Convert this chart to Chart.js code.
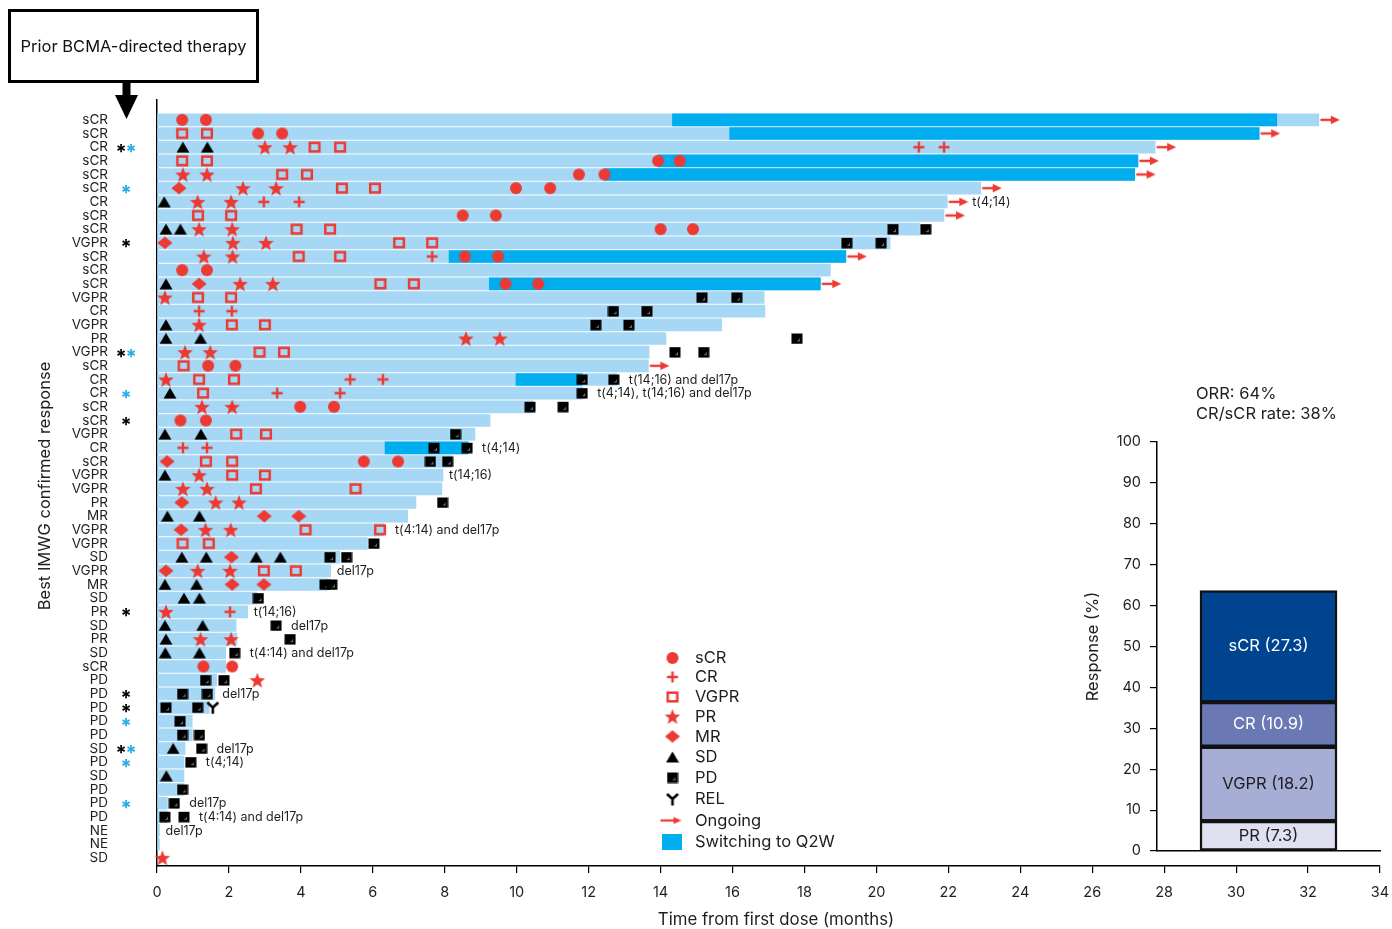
<!DOCTYPE html>
<html><head><meta charset="utf-8">
<script src="https://cdn.jsdelivr.net/npm/chart.js@4.4.1/dist/chart.umd.min.js"></script>
<style>
html,body{margin:0;padding:0;background:#fff;}
#wrap{position:relative;width:1392px;height:929px;font-family:Inter,sans-serif;overflow:hidden;}
#main{position:absolute;left:0;top:0;}
#inset{position:absolute;left:1060px;top:370px;}
#box{position:absolute;left:8px;top:9px;width:251px;height:74px;box-sizing:border-box;border:3px solid #000;
 display:flex;align-items:center;justify-content:center;font-size:16.5px;color:#111;}
</style></head>
<body><div id="wrap">
<canvas id="main" width="1392" height="929"></canvas>
<canvas id="inset" width="332" height="510"></canvas>
<div id="box">Prior BCMA-directed therapy</div>
</div>
<script>
// ---------------- DATA ----------------
const rowLabels = ["sCR","sCR","CR","sCR","sCR","sCR","CR","sCR","sCR","VGPR","sCR","sCR","sCR","VGPR","CR","VGPR","PR","VGPR","sCR","CR","CR","sCR","sCR","VGPR","CR","sCR","VGPR","VGPR","PR","MR","VGPR","VGPR","SD","VGPR","MR","SD","PR","SD","PR","SD","sCR","PD","PD","PD","PD","PD","SD","PD","SD","PD","PD","PD","NE","NE","SD"];
// time on treatment (months) per row
const barEnds = [32.3,30.64,27.75,27.27,27.18,22.9,21.97,21.88,21.2,20.38,19.15,18.72,18.44,16.88,16.9,15.7,14.15,13.68,13.66,12.78,11.84,10.45,9.26,8.84,8.65,8.2,7.95,7.92,7.2,6.97,6.3,5.85,5.09,4.83,4.72,2.77,2.52,2.2,2.22,1.91,1.91,1.66,1.61,1.45,0.98,0.98,0.78,0.75,0.75,0.75,0.29,0.28,0.07,0.07,null];
const ongoingRows = [0,1,2,3,4,5,6,7,10,12,18];
// switching to Q2W: [row, start, end]
const q2w = [[0,14.33,31.13],[1,15.92,30.64],[3,13.93,27.27],[4,12.44,27.18],[10,8.12,19.15],[12,9.24,18.44],[19,9.98,11.82],[24,6.34,8.65]];
// response assessments: [row, month]
const sCRpts = [[0,0.70],[0,1.36],[1,2.81],[1,3.48],[3,13.93],[3,14.53],[4,11.73],[4,12.44],[5,9.98],[5,10.93],[7,8.5],[7,9.42],[8,14.0],[8,14.9],[10,8.56],[10,9.48],[11,0.70],[11,1.39],[12,9.69],[12,10.6],[18,1.42],[18,2.18],[21,3.98],[21,4.92],[22,0.65],[22,1.36],[25,5.75],[25,6.7],[40,1.29],[40,2.09]];
const CRpts = [[2,21.18],[2,21.88],[6,2.97],[6,3.95],[10,7.65],[14,1.17],[14,2.08],[19,5.37],[19,6.28],[20,3.34],[20,5.09],[24,0.72],[24,1.39],[36,2.03]];
const VGPRpts = [[1,0.70],[1,1.39],[2,4.38],[2,5.09],[3,0.70],[3,1.39],[4,3.48],[4,4.17],[5,5.14],[5,6.06],[7,1.14],[7,2.06],[8,3.88],[8,4.81],[9,6.73],[9,7.65],[10,3.94],[10,5.09],[12,6.21],[12,7.14],[13,1.14],[13,2.06],[15,2.08],[15,3.0],[17,2.85],[17,3.53],[18,0.74],[19,1.17],[19,2.14],[20,1.28],[23,2.2],[23,3.03],[25,1.36],[25,2.09],[26,2.09],[26,3.0],[27,2.75],[27,5.52],[30,4.13],[30,6.2],[31,0.71],[31,1.44],[33,2.97],[33,3.86]];
const PRpts = [[2,3.0],[2,3.7],[4,0.72],[4,1.39],[5,2.39],[5,3.31],[6,1.13],[6,2.06],[8,1.17],[8,2.09],[9,2.11],[9,3.03],[10,1.3],[10,2.1],[12,2.31],[12,3.22],[13,0.22],[15,1.17],[16,8.59],[16,9.53],[17,0.78],[17,1.48],[19,0.25],[21,1.25],[21,2.09],[26,1.17],[27,0.72],[27,1.39],[28,1.63],[28,2.28],[30,1.35],[30,2.05],[33,1.13],[33,2.03],[36,0.25],[38,1.21],[38,2.06],[41,2.79],[54,0.15]];
const MRpts = [[5,0.61],[9,0.22],[12,1.17],[25,0.28],[28,0.69],[29,2.98],[29,3.94],[30,0.67],[32,2.07],[33,0.25],[34,2.09],[34,2.97]];
const SDpts = [[2,0.72],[2,1.4],[6,0.2],[8,0.25],[8,0.65],[12,0.25],[15,0.25],[16,0.25],[16,1.21],[20,0.36],[23,0.22],[23,1.22],[26,0.22],[29,0.29],[29,1.18],[32,0.69],[32,1.37],[32,2.76],[32,3.43],[34,0.22],[34,1.1],[35,0.75],[35,1.18],[37,0.22],[37,1.27],[38,0.25],[39,0.23],[39,1.18],[46,0.45],[48,0.26]];
const PDpts = [[8,20.46],[8,21.37],[9,19.18],[9,20.13],[13,15.15],[13,16.12],[14,12.69],[14,13.62],[15,12.2],[15,13.12],[16,17.79],[17,14.4],[17,15.2],[19,11.82],[19,12.7],[20,11.82],[21,10.37],[21,11.29],[23,8.3],[24,7.7],[24,8.62],[25,7.6],[25,8.08],[28,7.94],[31,6.03],[32,4.81],[32,5.27],[34,4.67],[34,4.86],[35,2.82],[37,3.31],[38,3.7],[39,2.16],[41,1.35],[41,1.86],[42,0.71],[42,1.4],[43,0.25],[43,1.13],[44,0.64],[45,0.71],[45,1.18],[46,1.24],[47,0.94],[49,0.71],[50,0.48],[51,0.22],[51,0.75]];
const RELpts = [[43,1.55]];
// prior therapy asterisks: k = black, b = blue
const asterisks = [[2,"kb"],[5,"b"],[9,"k"],[17,"kb"],[20,"b"],[22,"k"],[36,"k"],[42,"k"],[43,"k"],[44,"b"],[46,"kb"],[47,"b"],[50,"b"]];
// cytogenetic annotations
const annotations = [[6,"t(4;14)"],[19,"t(14;16) and del17p"],[20,"t(4;14), t(14;16) and del17p"],[24,"t(4;14)"],[26,"t(14;16)"],[30,"t(4:14) and del17p"],[33,"del17p"],[36,"t(14;16)"],[37,"del17p"],[39,"t(4:14) and del17p"],[42,"del17p"],[46,"del17p"],[47,"t(4;14)"],[50,"del17p"],[51,"t(4:14) and del17p"],[52,"del17p"]];
const xTicks = [0,2,4,6,8,10,12,14,16,18,20,22,24,26,28,30,32,34];
// inset stacked bar (%)
const respCats = ["PR","VGPR","CR","sCR"];
const respVals = [7.3,18.2,10.9,27.3];
const respTicks = [0,10,20,30,40,50,60,70,80,90,100];
const summaryLines = ["ORR: 64%","CR/sCR rate: 38%"];

// ---------------- STYLE ----------------
const FONT = 'Inter, "Noto Sans", sans-serif';
const RED = '#ec3a33', LIGHT = '#a6d7f4', DARK = '#00aeef', BLUE_AST = '#21aee6', TXT = '#1e1e1e';
function mk(w,h,draw){const c=document.createElement('canvas');c.width=w;c.height=h;const g=c.getContext('2d');draw(g,w,h);return c;}
const imgCircle = mk(14,14,g=>{g.fillStyle=RED;g.beginPath();g.ellipse(7,7,6,5.9,0,0,Math.PI*2);g.fill();});
const imgCross = mk(14,14,g=>{g.strokeStyle=RED;g.lineWidth=2.4;g.beginPath();g.moveTo(1.5,7);g.lineTo(12.5,7);g.moveTo(7,1.5);g.lineTo(7,12.5);g.stroke();});
const imgSquare = mk(14,14,g=>{g.strokeStyle=RED;g.lineWidth=2.5;g.strokeRect(2.2,2.7,9.6,8.6);});
const imgStar = mk(18,18,g=>{g.fillStyle=RED;g.beginPath();for(let i=0;i<10;i++){const r=i%2?3.5:8.2;const a=-Math.PI/2+i*Math.PI/5;g.lineTo(9+r*Math.cos(a),9.8+r*Math.sin(a));}g.closePath();g.fill();});
const imgDiamond = mk(16,14,g=>{g.fillStyle=RED;g.beginPath();g.moveTo(8,0.8);g.lineTo(15.5,7);g.lineTo(8,13.2);g.lineTo(0.5,7);g.closePath();g.fill();});
const imgTri = mk(14,12,g=>{g.fillStyle='#000';g.beginPath();g.moveTo(7,0.5);g.lineTo(13.5,11.5);g.lineTo(0.5,11.5);g.closePath();g.fill();});
const imgPD = mk(12,12,g=>{g.fillStyle='#000';g.fillRect(0.5,1,11,10.5);g.strokeStyle='#8a8a8a';g.lineWidth=1;g.beginPath();g.moveTo(6.5,8.5);g.lineTo(8.5,8.5);g.lineTo(8.5,6.5);g.stroke();});
const imgREL = mk(14,14,g=>{g.strokeStyle='#000';g.lineWidth=2.6;g.beginPath();g.moveTo(1.5,2);g.lineTo(7,7);g.lineTo(12.5,2);g.moveTo(7,7);g.lineTo(7,13.5);g.stroke();});
const imgArrow = mk(48,12,g=>{g.strokeStyle=RED;g.fillStyle=RED;g.lineWidth=2.4;g.beginPath();g.moveTo(25.5,6);g.lineTo(38,6);g.stroke();g.beginPath();g.moveTo(45,6);g.lineTo(36,1.8);g.lineTo(36,10.2);g.closePath();g.fill();});
const imgArrowLegend = mk(26,12,g=>{g.strokeStyle=RED;g.fillStyle=RED;g.lineWidth=2.2;g.beginPath();g.moveTo(1,6);g.lineTo(16,6);g.stroke();g.beginPath();g.moveTo(22,6);g.lineTo(14,2.5);g.lineTo(14,9.5);g.closePath();g.fill();});

const toXY = arr => arr.map(([r,m]) => ({x:m, y:r}));
function markerSet(label, pts, img, order){return {type:'scatter', label, data:toXY(pts), pointStyle:img, pointRadius:6, pointHoverRadius:6, clip:false, order};}

const lightData = barEnds.map((e,i)=> e==null?null:{x:[0,e], y:i}).filter(Boolean);
const q2wData = q2w.map(([r,s,e])=>({x:[s,e], y:r}));
const arrowData = ongoingRows.map(r=>({x:barEnds[r], y:r}));

const allMarkers = [sCRpts,CRpts,VGPRpts,PRpts,MRpts,SDpts,PDpts,RELpts];

const mainPlugin = {
  id:'mainDeco',
  afterDraw(chart){
    const ctx = chart.ctx, xs = chart.scales.x, ys = chart.scales.y;
    ctx.save();
    // y title
    ctx.fillStyle = TXT; ctx.font = '16.5px '+FONT; ctx.textAlign='center'; ctx.textBaseline='middle';
    ctx.save(); ctx.translate(45, 486); ctx.rotate(-Math.PI/2);
    ctx.fillText('Best IMWG confirmed response',0,0); ctx.restore();
    // x title
    ctx.font = '16.8px '+FONT;
    ctx.fillText('Time from first dose (months)', 776, 920);
    // asterisks
    ctx.font = 'bold 20px '+FONT; ctx.textBaseline='alphabetic';
    asterisks.forEach(([r,k])=>{
      const y = ys.getPixelForValue(r) + 11.5;
      if (k.length===2){ ctx.fillStyle='#000'; ctx.fillText('*',121,y); ctx.fillStyle=BLUE_AST; ctx.fillText('*',131,y); }
      else { ctx.fillStyle = k==='k' ? '#000' : BLUE_AST; ctx.fillText('*',126,y); }
    });
    // annotations
    ctx.font = '12.5px '+FONT; ctx.fillStyle=TXT; ctx.textAlign='left'; ctx.textBaseline='middle';
    annotations.forEach(([r,t])=>{
      const endPx = xs.getPixelForValue(barEnds[r]||0);
      let x = endPx + 6;
      allMarkers.forEach(arr=>arr.forEach(([rr,m])=>{ if(rr===r) x = Math.max(x, xs.getPixelForValue(m)+15); }));
      if (ongoingRows.includes(r)) x = Math.max(x, endPx+25);
      ctx.fillText(t, x, ys.getPixelForValue(r)+0.5);
    });
    // legend
    const items = [['sCR',imgCircle],['CR',imgCross],['VGPR',imgSquare],['PR',imgStar],['MR',imgDiamond],['SD',imgTri],['PD',imgPD],['REL',imgREL],['Ongoing',imgArrowLegend],['Switching to Q2W',null]];
    const ly = [658,677,697,716.5,736.5,757,777.5,799,820.5,842];
    ctx.font = '16.5px '+FONT;
    items.forEach(([t,img],i)=>{
      const y = ly[i];
      if (img) ctx.drawImage(img, 672.5-img.width/2, y-img.height/2);
      else { ctx.fillStyle=DARK; ctx.fillRect(662,834,20,16); }
      ctx.fillStyle=TXT; ctx.fillText(t, 695, y+0.5);
    });
    // arrow under box
    ctx.fillStyle='#000'; ctx.fillRect(122.5,82,8,15);
    ctx.beginPath(); ctx.moveTo(115,95); ctx.lineTo(138,95); ctx.lineTo(126.5,119); ctx.closePath(); ctx.fill();
    ctx.restore();
  }
};

new Chart(document.getElementById('main'), {
  data:{ datasets:[
    {type:'bar', label:'time', data:lightData, indexAxis:'y', backgroundColor:LIGHT, borderWidth:0, barThickness:12, grouped:false, order:10},
    {type:'bar', label:'Switching to Q2W', data:q2wData, indexAxis:'y', backgroundColor:DARK, borderWidth:0, barThickness:12, grouped:false, order:9},
    Object.assign(markerSet('Ongoing', [], imgArrow, 8), {data:arrowData}),
    markerSet('sCR', sCRpts, imgCircle, 1),
    markerSet('CR', CRpts, imgCross, 1),
    markerSet('VGPR', VGPRpts, imgSquare, 1),
    markerSet('PR', PRpts, imgStar, 1),
    markerSet('MR', MRpts, imgDiamond, 1),
    markerSet('SD', SDpts, imgTri, 1),
    markerSet('PD', PDpts, imgPD, 1),
    markerSet('REL', RELpts, imgREL, 1)
  ]},
  options:{
    responsive:false, animation:false, devicePixelRatio:1, events:[],
    layout:{padding:{left:0, top:100, right:12, bottom:0}},
    plugins:{legend:{display:false}, tooltip:{enabled:false}},
    scales:{
      x:{type:'linear', position:'bottom', min:0, max:34, offset:false,
        afterBuildTicks:s=>{s.ticks = xTicks.map(v=>({value:v}));},
        afterFit:s=>{s.height = 63; s.paddingLeft = 0; s.paddingRight = 0;},
        ticks:{font:{family:FONT,size:14.5}, color:TXT, padding:11, maxRotation:0, autoSkip:false},
        grid:{display:true, drawOnChartArea:false, drawTicks:true, tickLength:7, color:'#000', lineWidth:1.2, offset:false},
        border:{display:true, color:'#000', width:1.5}},
      y:{type:'linear', position:'left', reverse:true, min:-1.45, max:54.6, offset:false,
        afterBuildTicks:s=>{s.ticks = rowLabels.map((_,i)=>({value:i}));},
        afterFit:s=>{s.width = 157; s.paddingTop = 0; s.paddingBottom = 0;},
        ticks:{callback:v=>rowLabels[v], font:{family:FONT,size:13.5}, color:TXT, padding:41, autoSkip:false},
        grid:{display:false, offset:false},
        border:{display:true, color:'#000', width:1.5}}
    }
  },
  plugins:[mainPlugin]
});

// ---------------- INSET ----------------
const insetColors = ['#dfe1f1','#a6aed6','#6a78b4','#00448f'];
const insetText = ['#1e1e1e','#1e1e1e','#ffffff','#ffffff'];
const insetPlugin = {
  id:'insetDeco',
  afterDatasetsDraw(chart){
    const ctx = chart.ctx; ctx.save();
    ctx.font = '16.5px '+FONT; ctx.textAlign='center'; ctx.textBaseline='middle';
    chart.data.datasets.forEach((ds,i)=>{
      const el = chart.getDatasetMeta(i).data[0];
      ctx.fillStyle = insetText[i];
      ctx.fillText(respCats[i]+' ('+respVals[i]+')', el.x, (el.y+el.base)/2);
    });
    ctx.restore();
  },
  afterDraw(chart){
    const ctx = chart.ctx; ctx.save();
    ctx.fillStyle = TXT; ctx.font='16.5px '+FONT; ctx.textAlign='left'; ctx.textBaseline='middle';
    ctx.fillText(summaryLines[0], 136, 24);
    ctx.fillText(summaryLines[1], 136, 44);
    ctx.textAlign='center';
    ctx.save(); ctx.translate(33,(chart.chartArea.top+chart.chartArea.bottom)/2); ctx.rotate(-Math.PI/2);
    ctx.fillText('Response (%)',0,0); ctx.restore();
    ctx.restore();
  }
};
new Chart(document.getElementById('inset'), {
  type:'bar',
  data:{labels:['Response'], datasets: respCats.map((c,i)=>({label:c, data:[respVals[i]], backgroundColor:insetColors[i], borderColor:'#111', borderWidth:2.5, borderSkipped:false, barThickness:137}))},
  options:{
    responsive:false, animation:false, devicePixelRatio:1, events:[],
    layout:{padding:{left:0, top:72, right:12, bottom:29}},
    plugins:{legend:{display:false}, tooltip:{enabled:false}},
    scales:{
      x:{stacked:true, ticks:{display:false}, grid:{display:false, drawTicks:false}, border:{display:true,color:'#000',width:1.5}, afterFit:s=>{s.height=0; s.paddingLeft=0; s.paddingRight=0;}},
      y:{stacked:true, min:0, max:100,
        afterBuildTicks:s=>{s.ticks = respTicks.map(v=>({value:v}));},
        afterFit:s=>{s.width=97; s.paddingTop=0; s.paddingBottom=0;},
        ticks:{font:{family:FONT,size:14.5}, color:TXT, padding:9},
        grid:{display:true, drawOnChartArea:false, tickLength:7, color:'#000', lineWidth:1.2},
        border:{display:true, color:'#000', width:1.5}}
    }
  },
  plugins:[insetPlugin]
});
</script>
</body></html>
